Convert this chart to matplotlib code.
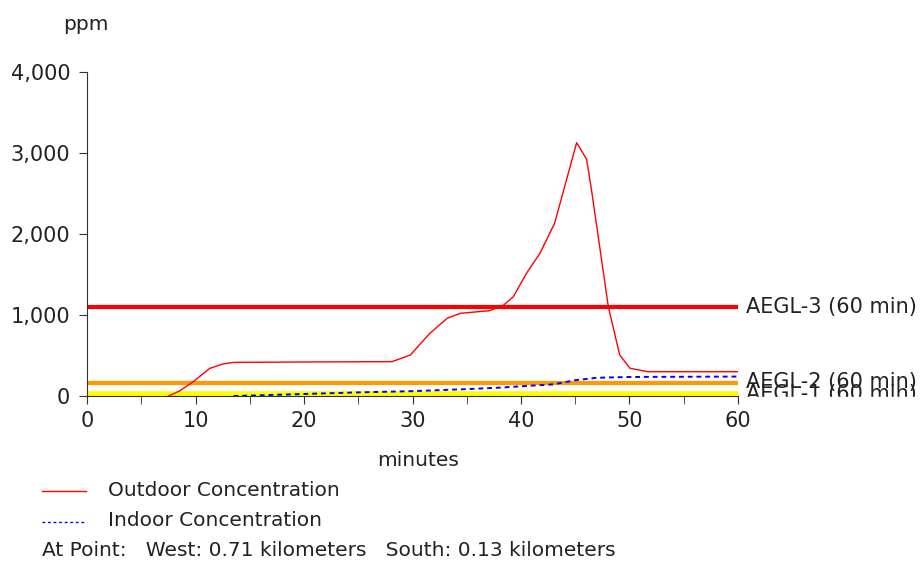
import matplotlib.pyplot as plt
from matplotlib.lines import Line2D
from matplotlib.patches import Rectangle
from matplotlib.ticker import FuncFormatter, MultipleLocator

# outdoor concentration (ppm) vs minutes
out_t = [7.5, 8.5, 9.8, 11.3, 12.5, 13.5, 20, 28.1, 29.8, 30.7, 31.6, 33.2, 34.4,
         37.1, 38.4, 39.3, 40.5, 41.75, 43.1, 45.13, 46.05, 46.5, 48.05, 49.1,
         50.05, 51.7, 60]
out_v = [0, 60, 177, 340, 395, 415, 420, 424, 506, 640, 774, 959, 1021,
         1053, 1123, 1226, 1514, 1762, 2132, 3127, 2922, 2543, 1103, 506,
         342, 300, 300]

# indoor concentration
in_t = [13.5, 15, 20, 25, 30, 35, 38, 40, 43, 45, 47, 50, 60]
in_v = [0, 5, 25, 45, 60, 85, 103, 120, 144, 195, 225, 235, 240]

# AEGL thresholds (60 min)
aegl_names = ['AEGL-3 (60 min)', 'AEGL-2 (60 min)', 'AEGL-1 (60 min)']
aegl_vals = [1100, 160, 30]
aegl_cols = ['#ff0000', '#ff9900', '#ffff00']
aegl_lw = [3.0, 3.0, 4.0]

fig = plt.figure(figsize=(9.22, 5.61), dpi=100)
ax = fig.add_axes([0.0944, 0.2941, 0.7060, 0.5776])

for v, c, lw in zip(aegl_vals, aegl_cols, aegl_lw):
    ax.plot([0, 60], [v, v], color=c, lw=lw, solid_capstyle='butt', zorder=2)

ax.plot(out_t, out_v, color='#ff0000', lw=1.0, zorder=3)
ax.plot(in_t, in_v, color='#0000ff', lw=1.4, dashes=(2.5, 2), zorder=3)

ax.set_xlim(0, 60)
ax.set_ylim(0, 4000)
ax.spines['top'].set_visible(False)
ax.spines['right'].set_visible(False)
ax.spines['left'].set_color('#333333')
ax.spines['bottom'].set_color('#333333')
ax.xaxis.set_major_locator(MultipleLocator(10))
ax.xaxis.set_minor_locator(MultipleLocator(5))
ax.yaxis.set_major_locator(MultipleLocator(1000))
ax.yaxis.set_major_formatter(FuncFormatter(lambda v, p: '{:,.0f}'.format(v)))
ax.tick_params(axis='both', which='both', direction='out', length=6,
               color='#333333', labelsize=15, labelcolor='#222222')
ax.tick_params(axis='x', pad=5)
ax.tick_params(axis='y', pad=6)

# labels for threshold lines
label_y = [1100, 175, 20]
for name, y in zip(aegl_names, label_y):
    ax.text(60.7, y, name, fontsize=15, color='#222222', va='center',
            ha='left', clip_on=False)
# the lowest label is partly hidden under the axis
fig.patches.append(Rectangle((742 / 922, 1 - 406 / 561), 180 / 922, 9.5 / 561,
                             transform=fig.transFigure, color='white', zorder=10))

fig.text(63 / 922, 1 - 25 / 561, 'ppm', fontsize=14.5, color='#222222', va='center')
fig.text(418 / 922, 1 - 461 / 561, 'minutes', fontsize=14.5, color='#222222',
         va='center', ha='center')

# legend-like footer
fig.lines.append(Line2D([42 / 922, 86 / 922], [1 - 491 / 561] * 2,
                        transform=fig.transFigure, color='#ff0000', lw=1.0))
fig.lines.append(Line2D([42 / 922, 86 / 922], [1 - 522 / 561] * 2,
                        transform=fig.transFigure, color='#0000ff', lw=1.0,
                        dashes=(2, 2)))
fig.text(108 / 922, 1 - 491 / 561, 'Outdoor Concentration', fontsize=14.5,
         color='#222222', va='center')
fig.text(108 / 922, 1 - 521 / 561, 'Indoor Concentration', fontsize=14.5,
         color='#222222', va='center')
fig.text(42 / 922, 1 - 551 / 561,
         'At Point:   West: 0.71 kilometers   South: 0.13 kilometers',
         fontsize=14.5, color='#222222', va='center')

fig.savefig('out.png', dpi=100)
